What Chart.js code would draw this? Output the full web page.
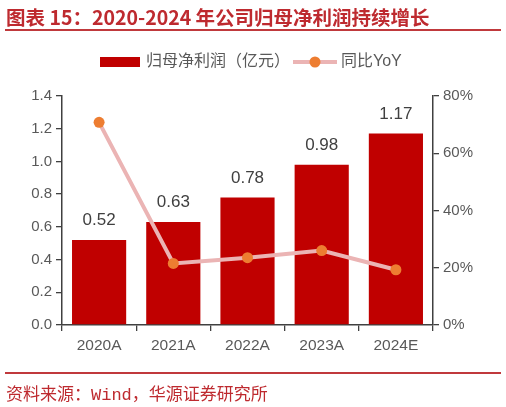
<!DOCTYPE html>
<html>
<head>
<meta charset="utf-8">
<script src="https://cdn.jsdelivr.net/npm/chart.js@4.4.1/dist/chart.umd.min.js"></script>
<style>
  body { margin: 0; background: #fff; }
  #wrap { position: relative; width: 506px; height: 407px; overflow: hidden; }
  #chart { position: absolute; left: 0; top: 0; }
  #title {
    position: absolute; left: 6px; top: 2px;
    font: bold 19.5px "Noto Sans CJK SC", "Liberation Sans", sans-serif;
    color: #BE2A2F; white-space: nowrap;
  }
  #topline { position: absolute; left: 5px; top: 29px; width: 496px; height: 2px; background: #C0393C; }
  #botline { position: absolute; left: 5px; top: 372px; width: 496px; height: 2px; background: #C0393C; }
  #source {
    position: absolute; left: 6px; top: 380px;
    font: 17px "Liberation Mono", "Noto Sans CJK SC", monospace;
    color: #BE2A2F; white-space: nowrap;
  }
</style>
</head>
<body>
<div id="wrap">
  <canvas id="chart" width="506" height="407"></canvas>
  <div id="title">图表 15：2020-2024 年公司归母净利润持续增长</div>
  <div id="topline"></div>
  <div id="botline"></div>
  <div id="source">资料来源：Wind，华源证券研究所</div>
</div>
<script>
const years = ["2020A", "2021A", "2022A", "2023A", "2024E"];
const profit = [0.52, 0.63, 0.78, 0.98, 1.17];   // 归母净利润（亿元）
const yoy = [70.8, 21.5, 23.5, 26.0, 19.3];      // 同比 %

const barColor = "#C00000";
const lineColor = "#EBB4B4";
const dotColor = "#ED7D31";
const axisColor = "#404040";
const textColor = "#595959";
const font = "'Liberation Sans', 'Noto Sans CJK SC', sans-serif";

// value labels above the bars
const barLabels = {
  id: "barLabels",
  afterDatasetsDraw(chart) {
    const ctx = chart.ctx;
    const meta = chart.getDatasetMeta(1);
    ctx.save();
    ctx.font = "17px " + font;
    ctx.fillStyle = "#404040";
    ctx.textAlign = "center";
    ctx.textBaseline = "bottom";
    meta.data.forEach((bar, i) => {
      ctx.fillText(profit[i].toFixed(2), bar.x, bar.y - 11);
    });
    ctx.restore();
  }
};

// legend drawn by hand so the line entry shows line + dot
const legendRow = {
  id: "legendRow",
  afterDraw(chart) {
    const ctx = chart.ctx;
    const bars = chart.data.datasets[1];
    const line = chart.data.datasets[0];
    const y = 62;
    ctx.save();
    ctx.fillStyle = bars.backgroundColor;
    ctx.fillRect(100, 57, 40, 10);
    ctx.font = "16px " + font;
    ctx.fillStyle = textColor;
    ctx.textBaseline = "middle";
    ctx.fillText(bars.label, 146, y);
    ctx.strokeStyle = line.borderColor;
    ctx.lineWidth = 4;
    ctx.beginPath();
    ctx.moveTo(293, y);
    ctx.lineTo(337, y);
    ctx.stroke();
    ctx.fillStyle = line.pointBackgroundColor;
    ctx.beginPath();
    ctx.arc(315, y, 5.5, 0, Math.PI * 2);
    ctx.fill();
    ctx.fillStyle = textColor;
    ctx.fillText(line.label, 341, y);
    ctx.restore();
  }
};

new Chart(document.getElementById("chart"), {
  data: {
    labels: years,
    datasets: [
      {
        type: "line",
        label: "同比YoY",
        data: yoy,
        yAxisID: "y2",
        borderColor: lineColor,
        borderWidth: 4,
        pointBackgroundColor: dotColor,
        pointBorderWidth: 0,
        pointRadius: 5.5,
        tension: 0,
        order: 0
      },
      {
        type: "bar",
        label: "归母净利润（亿元）",
        data: profit,
        yAxisID: "y",
        backgroundColor: barColor,
        categoryPercentage: 1,
        barPercentage: 0.73,
        order: 1
      }
    ]
  },
  options: {
    responsive: false,
    animation: false,
    layout: { padding: { top: 96, left: 0, right: 0, bottom: 0 } },
    plugins: {
      legend: { display: false },
      tooltip: { enabled: false }
    },
    scales: {
      x: {
        offset: true,
        grid: { offset: true, drawOnChartArea: false, tickLength: 6, color: axisColor, lineWidth: 1.3 },
        border: { color: axisColor, width: 1.5 },
        ticks: { color: textColor, font: { family: font, size: 15.5 }, padding: 5 },
        afterFit(scale) { scale.height = 82; }
      },
      y: {
        position: "left",
        min: 0, max: 1.4,
        ticks: {
          stepSize: 0.2,
          color: textColor,
          font: { family: font, size: 15 },
          padding: 4,
          callback: v => v.toFixed(1)
        },
        grid: { drawOnChartArea: false, tickLength: 6, color: axisColor, lineWidth: 1.3 },
        border: { color: axisColor, width: 1.5 },
        afterFit(scale) { scale.width = 62; }
      },
      y2: {
        position: "right",
        min: 0, max: 80,
        ticks: {
          stepSize: 20,
          color: textColor,
          font: { family: font, size: 15 },
          padding: 4,
          callback: v => v + "%"
        },
        grid: { drawOnChartArea: false, tickLength: 6, color: axisColor, lineWidth: 1.3 },
        border: { color: axisColor, width: 1.5 },
        afterFit(scale) { scale.width = 73; }
      }
    }
  },
  plugins: [barLabels, legendRow]
});
</script>
</body>
</html>
